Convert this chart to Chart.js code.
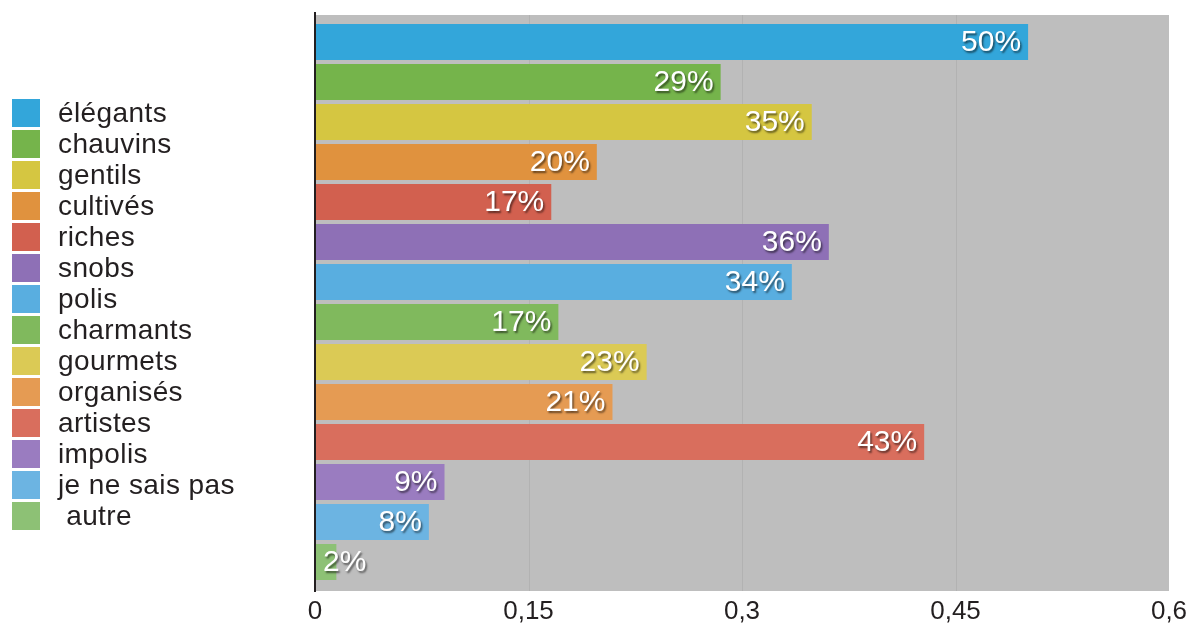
<!DOCTYPE html>
<html><head><meta charset="utf-8">
<script src="https://cdn.jsdelivr.net/npm/chart.js@4"></script>
<style>
body{margin:0;background:#fff}
#wrap{position:relative;width:1190px;height:625px}
canvas{position:absolute;left:0;top:0}
.leg{position:absolute;left:12px;height:28px;display:flex;align-items:center;font:28px "Liberation Sans",Arial,sans-serif;letter-spacing:0.4px;color:#231f20;white-space:pre}
.sw{width:28px;height:28px;margin-right:18px;flex:none}
</style></head>
<body>
<div id="wrap"><canvas id="c" width="1190" height="625"></canvas><div id="legend"></div></div>
<script>
const categories = ['élégants','chauvins','gentils','cultivés','riches','snobs','polis','charmants','gourmets','organisés','artistes','impolis','je ne sais pas',' autre'];
const values = [0.501,0.285,0.349,0.198,0.166,0.361,0.335,0.171,0.233,0.209,0.428,0.091,0.080,0.015];
const valueLabels = ['50%','29%','35%','20%','17%','36%','34%','17%','23%','21%','43%','9%','8%','2%'];
const colors = ['#33a6da','#75b44b','#d5c641','#e0923e','#d2604f','#8e70b6','#59aee0','#80b95d','#dbca55','#e59b53','#d96e5d','#9a7cc0','#6cb4e2','#8dc175'];
const xTicks = [0,0.15,0.3,0.45,0.6];
const gridTicks = [0.15,0.3,0.45];

const leg = document.getElementById('legend');
categories.forEach((c,i)=>{
  const d=document.createElement('div');d.className='leg';d.style.top=(99+i*31)+'px';
  const s=document.createElement('div');s.className='sw';s.style.background=colors[i];
  const t=document.createElement('span');t.textContent=c;
  d.appendChild(s);d.appendChild(t);leg.appendChild(d);
});

const PLOT_TOP=15, PLOT_BOTTOM=591;
const bgPlugin={id:'bg',beforeDraw(chart){
  const a=chart.chartArea,ctx=chart.ctx,xs=chart.scales.x;
  ctx.save();
  ctx.fillStyle='#bebebe';ctx.fillRect(a.left,PLOT_TOP,a.right-a.left,PLOT_BOTTOM-PLOT_TOP);
  ctx.strokeStyle='rgba(0,0,0,0.06)';ctx.lineWidth=1;
  gridTicks.forEach(v=>{const x=Math.round(xs.getPixelForValue(v))+0.5;ctx.beginPath();ctx.moveTo(x,PLOT_TOP);ctx.lineTo(x,PLOT_BOTTOM);ctx.stroke();});
  ctx.restore();
},afterDatasetsDraw(chart){
  const a=chart.chartArea,ctx=chart.ctx;
  ctx.save();ctx.strokeStyle='#231f20';ctx.lineWidth=2;ctx.beginPath();ctx.moveTo(a.left,12);ctx.lineTo(a.left,PLOT_BOTTOM+1);ctx.stroke();ctx.restore();
}};
const labelPlugin={id:'vl',afterDatasetsDraw(chart){
  const ctx=chart.ctx;const meta=chart.getDatasetMeta(0);
  ctx.save();ctx.font='30px "Liberation Sans",Arial,sans-serif';ctx.fillStyle='#fff';ctx.textBaseline='middle';
  ctx.shadowColor='rgba(0,0,0,0.55)';ctx.shadowOffsetX=1.5;ctx.shadowOffsetY=2;ctx.shadowBlur=2;
  meta.data.forEach((bar,i)=>{
    const txt=valueLabels[i];const w=ctx.measureText(txt).width;
    if(bar.x-bar.base-8<w+4){ctx.textAlign='left';ctx.fillText(txt,bar.base+8,bar.y+1);}
    else{ctx.textAlign='right';ctx.fillText(txt,bar.x-7,bar.y+1);}
  });
  ctx.restore();
}};

new Chart(document.getElementById('c'),{
  type:'bar',
  data:{labels:categories,datasets:[{data:values,backgroundColor:colors,borderWidth:0,barPercentage:0.9,categoryPercentage:1}]},
  options:{
    indexAxis:'y',responsive:false,animation:false,
    layout:{padding:{left:315,right:21,top:22,bottom:0}},
    plugins:{legend:{display:false},tooltip:{enabled:false}},
    scales:{
      x:{min:0,max:0.6,afterBuildTicks(axis){axis.ticks=xTicks.map(v=>({value:v}));},
        ticks:{callback:v=>String(+Number(v).toFixed(2)).replace('.',','),font:{size:26,family:'"Liberation Sans",Arial,sans-serif'},color:'#231f20',padding:14,maxRotation:0},
        grid:{display:false,drawTicks:false},
        border:{display:false},
        afterFit(axis){axis.height=43;axis.paddingLeft=0;axis.paddingRight=0;}},
      y:{ticks:{display:false},grid:{display:false,drawTicks:false},border:{display:false},afterFit(axis){axis.width=0;axis.paddingTop=0;axis.paddingBottom=0;}}
    }
  },
  plugins:[bgPlugin,labelPlugin]
});
</script>
</body></html>
